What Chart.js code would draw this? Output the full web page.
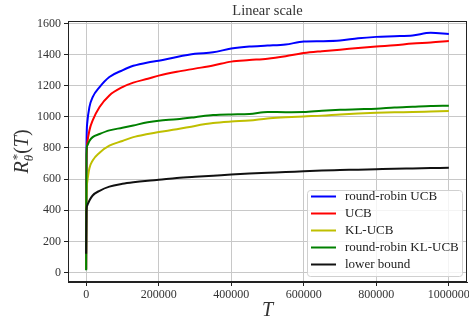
<!DOCTYPE html>
<html>
<head>
<meta charset="utf-8">
<script src="https://cdn.jsdelivr.net/npm/chart.js@4"></script>
<style>
  body { margin: 0; background: #fff; }
  canvas { display: block; }
</style>
</head>
<body>
<canvas id="regretChart" width="469" height="321"></canvas>
<script>
// horizon T at which the regret was sampled
const horizon = [0, 1000, 3000, 9000, 18000, 37000, 64000, 100000, 130000, 170000, 200000,
  250000, 300000, 350000, 400000, 450000, 500000, 550000, 600000, 650000, 700000,
  750000, 800000, 850000, 900000, 950000, 1000000];

const roundRobinUCB = [20, 800, 960, 1063, 1127, 1191, 1256, 1299, 1328, 1350, 1360,
  1385, 1405, 1415, 1439, 1452, 1458, 1465, 1484, 1486, 1490,
  1505, 1514, 1518, 1523, 1540, 1533];
const ucb = [20, 700, 830, 913, 977, 1063, 1138, 1191, 1220, 1245, 1265,
  1290, 1310, 1330, 1355, 1365, 1374, 1390, 1410, 1422, 1432,
  1442, 1452, 1460, 1471, 1478, 1488];
const klUCB = [20, 480, 580, 670, 720, 770, 815, 845, 870, 890, 903,
  920, 942, 960, 970, 977, 990, 997, 1003, 1008, 1016,
  1022, 1027, 1030, 1031, 1034, 1037];
const roundRobinKLUCB = [15, 760, 815, 845, 870, 890, 913, 930, 945, 965, 975,
  985, 998, 1012, 1016, 1018, 1031, 1030, 1031, 1040, 1046,
  1049, 1052, 1060, 1065, 1070, 1072];
const lowerBound = [120, 390, 430, 463, 495, 525, 552, 570, 580, 590, 596,
  607, 615, 622, 630, 636, 641, 645, 651, 655, 658,
  661, 664, 667, 669, 671, 673];

const xTicks = [0, 200000, 400000, 600000, 800000, 1000000];
const yTicks = [0, 200, 400, 600, 800, 1000, 1200, 1400, 1600];

const seriesNames = ['round-robin UCB', 'UCB', 'KL-UCB', 'round-robin KL-UCB', 'lower bound'];
const seriesColors = ['#0000ff', '#ff0000', '#bfbf00', '#008000', '#111111'];
const seriesValues = [roundRobinUCB, ucb, klUCB, roundRobinKLUCB, lowerBound];

const serif = '"Liberation Serif", "DejaVu Serif", serif';

const extras = {
  id: 'extras',
  afterDraw(chart) {
    const { ctx, chartArea: a } = chart;
    const cx = (a.left + a.right) / 2;
    ctx.save();

    // axes frame
    ctx.strokeStyle = '#222';
    ctx.lineWidth = 1;
    ctx.strokeRect(a.left + 0.5, a.top + 0.5, a.right - a.left - 1, a.bottom - a.top - 1);

    // title
    ctx.fillStyle = '#333';
    ctx.font = '14.5px ' + serif;
    ctx.textAlign = 'center';
    ctx.textBaseline = 'middle';
    ctx.fillText('Linear scale', cx, 11);

    // x label
    ctx.font = 'italic 20px ' + serif;
    ctx.fillText('T', cx, 311);

    // y label  R*_θ(T)
    ctx.save();
    ctx.translate(28, (a.top + a.bottom) / 2);
    ctx.rotate(-Math.PI / 2);
    ctx.textAlign = 'left';
    ctx.textBaseline = 'alphabetic';
    ctx.font = 'italic 20px ' + serif;
    const wR = ctx.measureText('R').width;
    const wT = ctx.measureText('T').width;
    ctx.font = '13px ' + serif;
    const wStar = ctx.measureText('*').width;
    ctx.font = 'italic 13px ' + serif;
    const wTheta = ctx.measureText('θ').width;
    ctx.font = '20px ' + serif;
    const wParen = ctx.measureText('(').width;
    const wClose = ctx.measureText(')').width;
    const sub = Math.max(wStar, wTheta) + 1;
    const total = wR + sub + wParen + wT + wClose;
    let x = -total / 2;
    ctx.font = 'italic 20px ' + serif;
    ctx.fillText('R', x, 0);
    x += wR;
    ctx.font = '13px ' + serif;
    ctx.fillText('*', x + 1, -7);
    ctx.font = 'italic 13px ' + serif;
    ctx.fillText('θ', x, 5);
    x += sub;
    ctx.font = '20px ' + serif;
    ctx.fillText('(', x, 0);
    x += wParen;
    ctx.font = 'italic 20px ' + serif;
    ctx.fillText('T', x, 0);
    x += wT;
    ctx.font = '20px ' + serif;
    ctx.fillText(')', x, 0);
    ctx.restore();

    // legend box, lower right inside the axes
    const bx = 307, by = 190, bw = 155, bh = 86;
    ctx.beginPath();
    ctx.roundRect(bx + 0.5, by + 0.5, bw, bh, 3);
    ctx.fillStyle = 'rgba(255,255,255,0.8)';
    ctx.fill();
    ctx.strokeStyle = '#d0d0d0';
    ctx.stroke();
    ctx.font = '13px ' + serif;
    ctx.textAlign = 'left';
    ctx.textBaseline = 'middle';
    seriesNames.forEach((name, i) => {
      const y = 196.5 + i * 17;
      ctx.strokeStyle = seriesColors[i];
      ctx.lineWidth = 2;
      ctx.beginPath();
      ctx.moveTo(311, y);
      ctx.lineTo(336, y);
      ctx.stroke();
      ctx.fillStyle = '#222';
      ctx.fillText(name, 345, y + 0.5);
    });

    ctx.restore();
  }
};

const ctx = document.getElementById('regretChart').getContext('2d');

new Chart(ctx, {
  type: 'line',
  data: {
    datasets: seriesNames.map((name, i) => ({
      label: name,
      data: horizon.map((t, j) => ({ x: t, y: seriesValues[i][j] })),
      borderColor: seriesColors[i],
      borderWidth: 2,
      pointRadius: 0,
      fill: false,
      cubicInterpolationMode: 'monotone',
      order: seriesNames.length - i
    }))
  },
  options: {
    responsive: false,
    devicePixelRatio: 1,
    animation: false,
    layout: { padding: { left: 0, top: 21, right: 2, bottom: 0 } },
    plugins: {
      legend: { display: false },
      tooltip: { enabled: false },
      title: { display: false }
    },
    scales: {
      x: {
        type: 'linear',
        min: -50000,
        max: 1050000,
        afterBuildTicks: s => { s.ticks = xTicks.map(v => ({ value: v })); },
        afterFit: s => { s.height = 39; s.paddingLeft = 0; s.paddingRight = 0; },
        ticks: {
          color: '#333',
          font: { family: serif, size: 12 },
          padding: 2,
          maxRotation: 0,
          callback: v => String(v)
        },
        grid: { color: '#c8c8c8', tickColor: '#222', tickLength: 4 },
        border: { color: '#222' }
      },
      y: {
        min: -61,
        max: 1616,
        afterBuildTicks: s => { s.ticks = yTicks.map(v => ({ value: v })); },
        afterFit: s => { s.width = 68; s.paddingTop = 0; s.paddingBottom = 0; },
        ticks: {
          color: '#333',
          font: { family: serif, size: 12 },
          padding: 3,
          callback: v => String(v)
        },
        grid: { color: '#c8c8c8', tickColor: '#222', tickLength: 4 },
        border: { color: '#222' }
      }
    }
  },
  plugins: [extras]
});
</script>
</body>
</html>
